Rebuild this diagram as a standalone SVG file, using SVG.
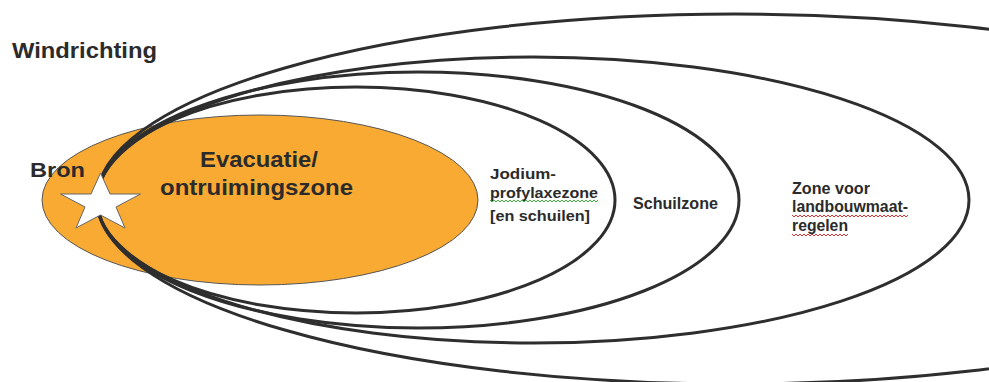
<svg xmlns="http://www.w3.org/2000/svg" width="989" height="382" viewBox="0 0 989 382">
<style>
.zone{fill:none;stroke:#2e2e2e;stroke-width:3}
.lbl{font-family:"Liberation Sans",Arial,sans-serif;font-weight:bold;fill:#2b2b2b}
.sq{fill:none;stroke-width:1}
</style>
<rect width="989" height="382" fill="#ffffff"/>
<g id="evacuatie">
<ellipse cx="260" cy="200" rx="218" ry="85" fill="#F9AA33" stroke="#555" stroke-width="1"/>
</g>
<g id="connectors">
<ellipse id="jodium" class="zone" cx="356" cy="200" rx="259" ry="113"/>
<ellipse id="schuil" class="zone" cx="418" cy="200" rx="321" ry="128"/>
<ellipse id="landbouw" class="zone" cx="533" cy="200" rx="436" ry="143"/>
<ellipse id="buiten" class="zone" cx="735" cy="199" rx="638" ry="185"/>
</g>
<g id="bron">
<polygon points="100.5,173 110,194 140.5,194 116,207 125,228 100.5,215 76,228 85,207 60.5,194 91,194" fill="#ffffff" stroke="#666" stroke-width="1"/>
<text class="lbl" x="30" y="177" font-size="20" textLength="55" lengthAdjust="spacingAndGlyphs">Bron</text>
</g>
<g id="windrichting">
<text class="lbl" x="12" y="58" font-size="22" textLength="145" lengthAdjust="spacingAndGlyphs">Windrichting</text>
</g>
<g id="evacuatie-label">
<text class="lbl" x="200" y="167" font-size="22" textLength="118" lengthAdjust="spacingAndGlyphs">Evacuatie/</text>
<text class="lbl" x="160" y="195" font-size="22" textLength="193" lengthAdjust="spacingAndGlyphs">ontruimingszone</text>
</g>
<g id="jodium-label">
<text class="lbl" x="490" y="179" font-size="15.5" textLength="66" lengthAdjust="spacingAndGlyphs">Jodium-</text>
<text class="lbl" x="490" y="198" font-size="15.5" textLength="108" lengthAdjust="spacingAndGlyphs">profylaxezone</text>
<text class="lbl" x="490" y="221" font-size="15.5" textLength="100" lengthAdjust="spacingAndGlyphs">[en schuilen]</text>
<polyline class="sq" stroke="#3cb43c" points="490,200 492,202 494,200 496,202 498,200 500,202 502,200 504,202 506,200 508,202 510,200 512,202 514,200 516,202 518,200 520,202 522,200 524,202 526,200 528,202 530,200 532,202 534,200 536,202 538,200 540,202 542,200 544,202 546,200 548,202 550,200 552,202 554,200 556,202 558,200 560,202 562,200 564,202 566,200 568,202 570,200 572,202 574,200 576,202 578,200 580,202 582,200 584,202 586,200 588,202 590,200 592,202 594,200 596,202 598,200"/>
</g>
<g id="schuil-label">
<text class="lbl" x="633" y="209" font-size="16" textLength="85" lengthAdjust="spacingAndGlyphs">Schuilzone</text>
</g>
<g id="landbouw-label">
<text class="lbl" x="792" y="194" font-size="16" textLength="78" lengthAdjust="spacingAndGlyphs">Zone voor</text>
<text class="lbl" x="792" y="212" font-size="16" textLength="116" lengthAdjust="spacingAndGlyphs">landbouwmaat-</text>
<text class="lbl" x="792" y="231" font-size="16" textLength="56" lengthAdjust="spacingAndGlyphs">regelen</text>
<polyline class="sq" stroke="#e03030" points="792,215 794,217 796,215 798,217 800,215 802,217 804,215 806,217 808,215 810,217 812,215 814,217 816,215 818,217 820,215 822,217 824,215 826,217 828,215 830,217 832,215 834,217 836,215 838,217 840,215 842,217 844,215 846,217 848,215 850,217 852,215 854,217 856,215 858,217 860,215 862,217 864,215 866,217 868,215 870,217 872,215 874,217 876,215 878,217 880,215 882,217 884,215 886,217 888,215 890,217 892,215 894,217 896,215 898,217 900,215 902,217 904,215 906,217 908,215"/>
<polyline class="sq" stroke="#e03030" points="792,234 794,236 796,234 798,236 800,234 802,236 804,234 806,236 808,234 810,236 812,234 814,236 816,234 818,236 820,234 822,236 824,234 826,236 828,234 830,236 832,234 834,236 836,234 838,236 840,234 842,236 844,234 846,236 848,234"/>
</g>
</svg>
